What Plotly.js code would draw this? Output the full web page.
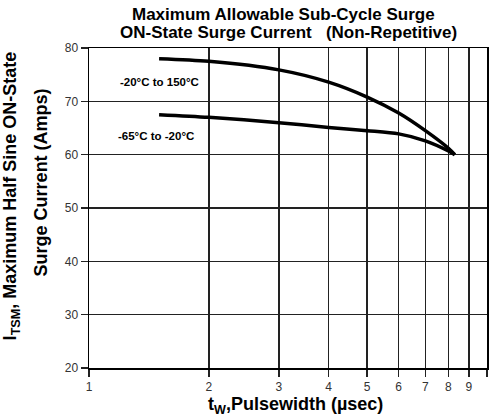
<!DOCTYPE html>
<html>
<head>
<meta charset="utf-8">
<script src="https://cdn.plot.ly/plotly-3.0.1.min.js"></script>
<style>html,body{margin:0;padding:0;background:#fff;}#chart{width:490px;height:417px;}</style>
</head>
<body>
<div id="chart"></div>
<script>
// Pulse width (µsec) and surge current (Amps)
const pwHigh = [1.5, 2, 3, 4, 5, 6, 7, 8, 8.3];
const ampsHigh = [78.0, 77.5, 75.9, 73.6, 70.8, 67.8, 64.5, 61.2, 60.0];
const pwLow = [1.5, 2, 3, 4, 5, 6, 7, 8, 8.3];
const ampsLow = [67.5, 67.0, 66.0, 65.1, 64.5, 63.9, 62.6, 60.7, 60.0];
const seriesNames = ['-20°C to 150°C', '-65°C to -20°C'];
const xTicks = [1, 2, 3, 4, 5, 6, 7, 8, 9, 10];
const xTickText = ['1', '2', '3', '4', '5', '6', '7', '8', '9', '10'];
const yTicks = [20, 30, 40, 50, 60, 70, 80];
const titleLines = ['Maximum Allowable Sub-Cycle Surge', 'ON-State Surge Current   (Non-Repetitive)'];
const yTitleLines = ['I<sub>TSM</sub>, Maximum Half Sine ON-State', 'Surge Current (Amps)'];
const xTitle = 't<sub>W</sub>,Pulsewidth (µsec)';

const font = 'Liberation Sans, Arial, Helvetica, sans-serif';
const traces = [
  {x: pwHigh, y: ampsHigh, mode: 'lines', name: seriesNames[0], line: {color: '#000', width: 3.5, shape: 'spline', smoothing: 0.8}},
  {x: pwLow, y: ampsLow, mode: 'lines', name: seriesNames[1], line: {color: '#000', width: 3.5, shape: 'spline', smoothing: 0.8}}
];
const bold = s => '<b>' + s + '</b>';
const tfont = {size: 17, family: font, color: '#000'};
const afont = {size: 18, family: font, color: '#000'};
const layout = {
  width: 490, height: 417,
  margin: {l: 89, r: 3, t: 48, b: 49},
  paper_bgcolor: '#fff', plot_bgcolor: '#fff',
  showlegend: false,
  font: {family: font, color: '#000'},
  xaxis: {type: 'log', range: [0, 1], tickmode: 'array', tickvals: xTicks, ticktext: xTickText,
          showgrid: true, gridcolor: '#222', gridwidth: 1.5, showline: true, linecolor: '#000', linewidth: 1.5, mirror: true,
          ticks: 'outside', ticklen: 7, tickwidth: 1.5, tickcolor: '#222',
          tickfont: {size: 12, color: '#333', family: font}, zeroline: false},
  yaxis: {range: [20, 80], tickmode: 'array', tickvals: yTicks,
          showgrid: true, gridcolor: '#222', gridwidth: 1.5, showline: true, linecolor: '#000', linewidth: 1.5, mirror: true,
          ticks: 'outside', ticklen: 7, tickwidth: 1.5, tickcolor: '#222',
          tickfont: {size: 12, color: '#333', family: font}, zeroline: false},
  annotations: [
    {text: bold(titleLines[0]), xref: 'paper', yref: 'paper', x: 0.489, y: 1.106, xanchor: 'center', yanchor: 'middle',
     showarrow: false, font: tfont},
    {text: bold(titleLines[1]), xref: 'paper', yref: 'paper', x: 0.5025, y: 1.049, xanchor: 'center', yanchor: 'middle',
     showarrow: false, font: tfont},
    {text: bold(seriesNames[0]), xref: 'x', yref: 'y', x: 0.1776, y: 73.7, showarrow: false,
     xanchor: 'center', yanchor: 'middle', font: {size: 11.5, family: font, color: '#000'}},
    {text: bold(seriesNames[1]), xref: 'x', yref: 'y', x: 0.1688, y: 63.55, showarrow: false,
     xanchor: 'center', yanchor: 'middle', font: {size: 11.5, family: font, color: '#000'}},
    {text: bold(yTitleLines[0]), xref: 'paper', yref: 'paper', x: -0.195, y: 0.5375,
     xanchor: 'center', yanchor: 'middle', textangle: -90, showarrow: false, font: afont},
    {text: bold(yTitleLines[1]), xref: 'paper', yref: 'paper', x: -0.1206, y: 0.58,
     xanchor: 'center', yanchor: 'middle', textangle: -90, showarrow: false, font: afont},
    {text: bold(xTitle), xref: 'paper', yref: 'paper', x: 0.5176, y: -0.116,
     xanchor: 'center', yanchor: 'middle', showarrow: false, font: afont}
  ]
};
Plotly.newPlot('chart', traces, layout, {displayModeBar: false, staticPlot: true});
</script>
</body>
</html>
